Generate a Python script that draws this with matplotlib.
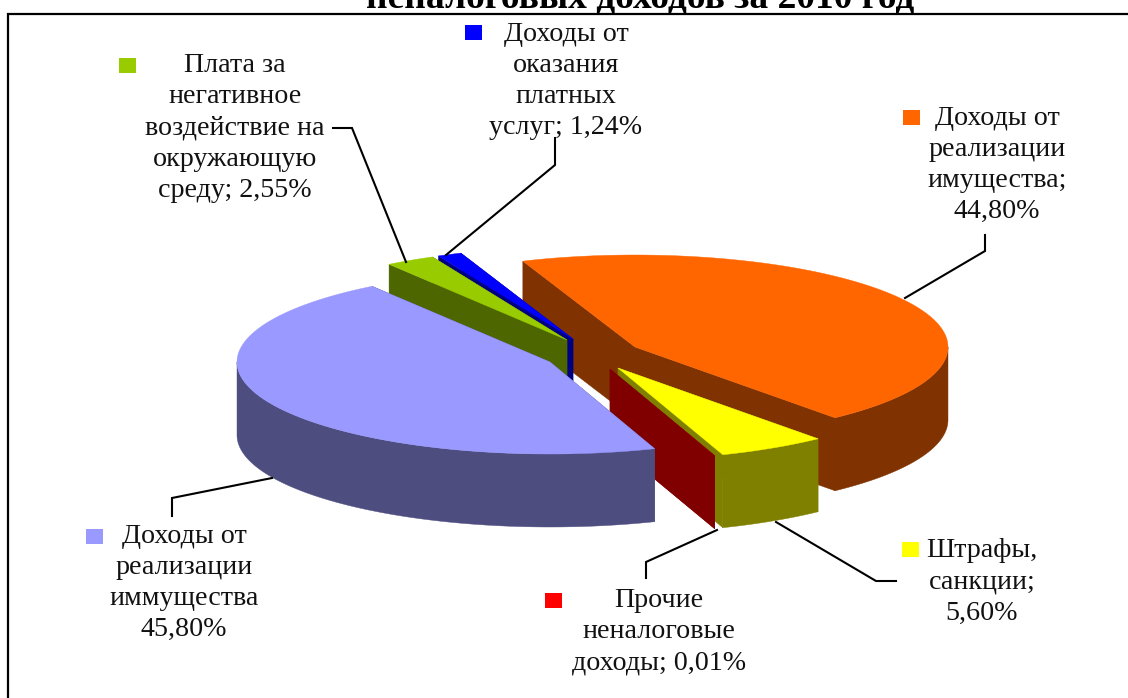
import numpy as np
import matplotlib
matplotlib.use("Agg")
import matplotlib.pyplot as plt
from matplotlib.patches import Polygon, Rectangle

plt.rcParams['font.family'] = ['Liberation Serif', 'DejaVu Serif']

# --- data ---
categories = [
    "Доходы от\nреализации\nимущества;",
    "Штрафы,\nсанкции;",
    "Прочие\nненалоговые\nдоходы;",
    "Доходы от\nреализации\nиммущества",
    "Плата за\nнегативное\nвоздействие на\nокружающую\nсреду;",
    "Доходы от\nоказания\nплатных\nуслуг;",
]
values = [44.80, 5.60, 0.01, 45.80, 2.55, 1.24]
title = "неналоговых доходов за 2010 год"

# --- style ---
top_colors = ["#FF6600", "#FFFF00", "#FF0000", "#9999FF", "#99CC00", "#0000FF"]
side_colors = ["#803300", "#808000", "#800000", "#4D4D80", "#4D6600", "#000080"]
apexes = [(635, 347), (618, 368), (610, 369), (550, 362), (567, 340), (573, 339)]
draw_order = [0, 5, 4, 1, 2, 3]
RX, RY, DEPTH = 313, 92, 73
START_ANGLE = 111.0
FS = 20.2

label_centers = [(997, 165), (982, 582), (659, 632), (184, 583), (235, 128), (566, 81)]
value_joiner = ["\n", "\n", " ", "\n", " ", " "]
key_boxes = [(903, 110), (902, 542), (545, 593), (86, 529), (119, 58), (465, 25)]
leaders = [
    [(985, 235), (985, 251), (905, 298)],
    [(896, 581), (876, 581), (776, 522)],
    [(646, 578), (646, 562), (717, 530)],
    [(172, 516), (172, 498), (272, 478)],
    [(333, 128), (352, 128), (406, 262)],
    [(555, 138), (555, 165), (446, 255)],
]

fig = plt.figure(figsize=(11.28, 6.98), dpi=100)
ax = fig.add_axes([0, 0, 1, 1])
ax.set_xlim(0, 1128)
ax.set_ylim(698, 0)
ax.axis("off")

# frame: left and top only, as in the cropped original
ax.plot([8, 8, 1128], [697, 14, 14], color="black", lw=1.6, solid_joinstyle="miter", zorder=1)

# wedge angles from the values
spans = np.array(values) / sum(values) * 360.0
starts = START_ANGLE - np.concatenate([[0], np.cumsum(spans)[:-1]])
ends = starts - spans


def rim(cx, cy, a0, a1, dy=0):
    t = np.radians(np.linspace(a0, a1, 160))
    return np.column_stack([cx + RX * np.cos(t), cy - RY * np.sin(t) + dy])


z = 2
for i in draw_order:
    cx, cy = apexes[i]
    a0, a1 = starts[i], ends[i]
    top = rim(cx, cy, a0, a1)
    kw = dict(closed=True, fc=side_colors[i], ec=side_colors[i], lw=0.3)
    # cut faces
    for p in (top[0], top[-1]):
        ax.add_patch(Polygon([(cx, cy), p, (p[0], p[1] + DEPTH), (cx, cy + DEPTH)], zorder=z, **kw))
    # outer wall: only the part turned towards the viewer
    for k in (-360, 0, 360):
        hi = min(a0, k)
        lo = max(a1, k - 180)
        if hi > lo:
            wall = rim(cx, cy, hi, lo)
            ax.add_patch(Polygon(np.vstack([wall, (wall + [0, DEPTH])[::-1]]), zorder=z, **kw))
    # top face (a hair-thin sliver gets no outline, so it stays invisible)
    ax.add_patch(Polygon(np.vstack([[(cx, cy)], top]), closed=True, fc=top_colors[i],
                         ec=top_colors[i] if spans[i] > 1 else "none",
                         lw=0.3, zorder=z + 0.5))
    z += 1

# leader lines, keys, labels
for pts in leaders:
    xs, ys = zip(*pts)
    ax.plot(xs, ys, color="black", lw=1.5, solid_joinstyle="miter", zorder=20)

for cat, v, j, (x, y), (kx, ky), col in zip(categories, values, value_joiner, label_centers, key_boxes, top_colors):
    txt = cat + j + f"{v:.2f}".replace(".", ",") + "%"
    ax.text(x, y, txt, ha="center", va="center", fontsize=FS, color="#111111",
            linespacing=1.33, zorder=21)
    ax.add_patch(Rectangle((kx, ky), 17, 15, fc=col, ec="none", zorder=21))

ax.text(640, 8, title, ha="center", va="baseline", fontsize=27, fontweight="bold",
        color="black", zorder=21)

fig.savefig("out.png", dpi=100)
